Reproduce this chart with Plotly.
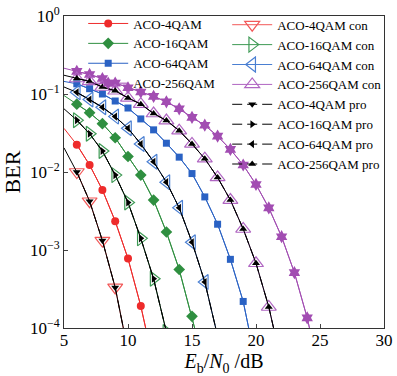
import plotly.graph_objects as go

# ---------------- data ----------------
snr_4 = [5, 6, 7, 8, 9, 10, 11, 12]
ber_4 = [0.0363, 0.0224, 0.0123, 0.00589, 0.00234, 0.000776, 0.000191, 3.47e-5]
snr_4c = [5, 6, 7, 8, 9, 10]
ber_4c = [0.0204, 0.0100, 0.00422, 0.00132, 0.000331, 5.0e-5]
ber_4p = [0.0204, 0.0100, 0.00422, 0.00132, 0.000331, 5.0e-5]

snr_16 = [5, 6, 7, 8, 9, 10, 11, 12, 13, 14, 15, 16]
ber_16 = [0.0955, 0.0741, 0.0575, 0.0417, 0.0275, 0.0158, 0.00912, 0.00437, 0.0017, 0.000562, 0.000141, 3.2e-5]
snr_16c = [5, 6, 7, 8, 9, 10, 11, 12, 13]
ber_16c = [0.0646, 0.0462, 0.0309, 0.0186, 0.00912, 0.00407, 0.00141, 0.000427, 8.9e-5]
ber_16p = [0.0646, 0.0462, 0.0309, 0.0186, 0.00912, 0.00407, 0.00141, 0.000427, 8.9e-5]

snr_64 = [5, 6, 7, 8, 9, 10, 11, 12, 13, 14, 15, 16, 17, 18, 19, 20]
ber_64 = [0.145, 0.135, 0.117, 0.100, 0.0813, 0.0661, 0.0479, 0.0347, 0.0234, 0.0155,
          0.00955, 0.00479, 0.00214, 0.000759, 0.000219, 3.5e-5]
snr_64c = [5, 6, 7, 8, 9, 10, 11, 12, 13, 14, 15, 16, 17]
ber_64c = [0.123, 0.105, 0.0851, 0.0676, 0.0513, 0.0363, 0.0229, 0.0135, 0.00741, 0.00347,
           0.00126, 0.000389, 7.9e-5]
ber_64p = [0.123, 0.105, 0.0851, 0.0676, 0.0513, 0.0363, 0.0229, 0.0135, 0.00741, 0.00347,
           0.00126, 0.000389, 7.9e-5]

snr_256 = [5, 6, 7, 8, 9, 10, 11, 12, 13, 14, 15, 16, 17, 18, 19, 20, 21, 22, 23, 24, 25]
ber_256 = [0.214, 0.195, 0.178, 0.158, 0.138, 0.120, 0.106, 0.0933, 0.0794, 0.0646, 0.0501,
           0.0398, 0.0288, 0.0195, 0.0123, 0.00692, 0.00347, 0.00148, 0.000513, 0.000135, 2.5e-5]
snr_256c = [5, 6, 7, 8, 9, 10, 11, 12, 13, 14, 15, 16, 17, 18, 19, 20, 21, 22]
ber_256c = [0.174, 0.158, 0.145, 0.123, 0.110, 0.0891, 0.0741, 0.0562, 0.0457, 0.0339, 0.0229,
            0.0148, 0.00851, 0.00437, 0.00186, 0.000676, 0.000186, 3.5e-5]
ber_256p = [0.174, 0.158, 0.145, 0.123, 0.110, 0.0891, 0.0741, 0.0562, 0.0457, 0.0339, 0.0229,
            0.0148, 0.00851, 0.00437, 0.00186, 0.000676, 0.000186, 3.5e-5]

y_tickvals = [1e-4, 1e-3, 1e-2, 1e-1, 1]
y_ticktext = ["10<sup>−4</sup>", "10<sup>−3</sup>", "10<sup>−2</sup>", "10<sup>−1</sup>", "10<sup>0</sup>"]
x_tickvals = [5, 10, 15, 20, 25, 30]

FONT = "Liberation Serif"

fig = go.Figure()

# simulated curves (solid, filled markers)
sim = [
    ("ACO-4QAM", snr_4, ber_4, "#ee2b2b", "circle", 8),
    ("ACO-16QAM", snr_16, ber_16, "#2f8f40", "diamond", 9),
    ("ACO-64QAM", snr_64, ber_64, "#2a62c4", "square", 7),
    ("ACO-256QAM", snr_256, ber_256, "#a24db2", "hexagram", 10),
]
for name, x, y, c, sym, sz in sim:
    fig.add_trace(go.Scatter(x=x, y=y, mode="lines", line=dict(color=c, width=1),
                             showlegend=False, hoverinfo="skip"))
    fig.add_trace(go.Scatter(x=x[1:], y=y[1:], mode="lines+markers", name=name,
                             line=dict(color=c, width=1),
                             marker=dict(symbol=sym, size=sz, color=c), legend="legend"))

con = [
    ("ACO-4QAM con", snr_4c, ber_4c, "#f25858", "triangle-down-open"),
    ("ACO-16QAM con", snr_16c, ber_16c, "#3e9a55", "triangle-right-open"),
    ("ACO-64QAM con", snr_64c, ber_64c, "#4a7fd2", "triangle-left-open"),
    ("ACO-256QAM con", snr_256c, ber_256c, "#b066c2", "triangle-up-open"),
]
for name, x, y, c, sym in con:
    fig.add_trace(go.Scatter(x=x[1:], y=y[1:], mode="lines+markers", name=name,
                             line=dict(color=c, width=1),
                             marker=dict(symbol=sym, size=13, color=c, line=dict(width=1.2)),
                             legend="legend2"))

pro = [
    ("ACO-4QAM pro", snr_4c, ber_4p, "triangle-down"),
    ("ACO-16QAM pro", snr_16c, ber_16p, "triangle-right"),
    ("ACO-64QAM pro", snr_64c, ber_64p, "triangle-left"),
    ("ACO-256QAM pro", snr_256c, ber_256p, "triangle-up"),
]
for name, x, y, sym in pro:
    fig.add_trace(go.Scatter(x=x, y=y, mode="lines", line=dict(color="black", width=1),
                             showlegend=False, hoverinfo="skip"))
    fig.add_trace(go.Scatter(x=x[1:], y=y[1:], mode="lines+markers", name=name,
                             line=dict(color="black", width=1, dash="10px,5px"),
                             marker=dict(symbol=sym, size=7, color="black"),
                             legend="legend2"))

fig.update_layout(
    width=397, height=376,
    margin=dict(l=64, r=13, t=8, b=48),
    paper_bgcolor="white", plot_bgcolor="white",
    font=dict(family=FONT, size=17, color="black"),
    legend=dict(x=0.06, y=1.024, xanchor="left", yanchor="top",
                bgcolor="rgba(0,0,0,0)", font=dict(family=FONT, size=13),
                itemwidth=40, tracegroupgap=0),
    legend2=dict(x=0.51, y=1.02, xanchor="left", yanchor="top",
                 bgcolor="rgba(0,0,0,0)", font=dict(family=FONT, size=13),
                 itemwidth=40, tracegroupgap=0),
)
fig.update_xaxes(range=[5, 30], tickvals=x_tickvals, ticks="inside", ticklen=4,
                 showgrid=False, zeroline=False, showline=True, linecolor="#333",
                 linewidth=1, mirror=True, tickfont=dict(size=17), automargin=False,
                 ticklabelstandoff=-3,
                 title=dict(text="<i>E</i><sub>b</sub>/<i>N</i><sub>0</sub> /dB",
                            font=dict(size=20), standoff=0))
fig.update_yaxes(type="log", range=[-4, 0], tickvals=y_tickvals, ticktext=y_ticktext,
                 ticks="inside", ticklen=4, showgrid=False, zeroline=False, showline=True,
                 linecolor="#333", linewidth=1, mirror=True, tickfont=dict(size=17),
                 automargin=False,
                 title=dict(text="BER", font=dict(size=22), standoff=4))

fig.write_html("out.html", config={"displayModeBar": False},
               post_script="document.body.style.margin='0px';document.body.style.overflow='hidden';")
